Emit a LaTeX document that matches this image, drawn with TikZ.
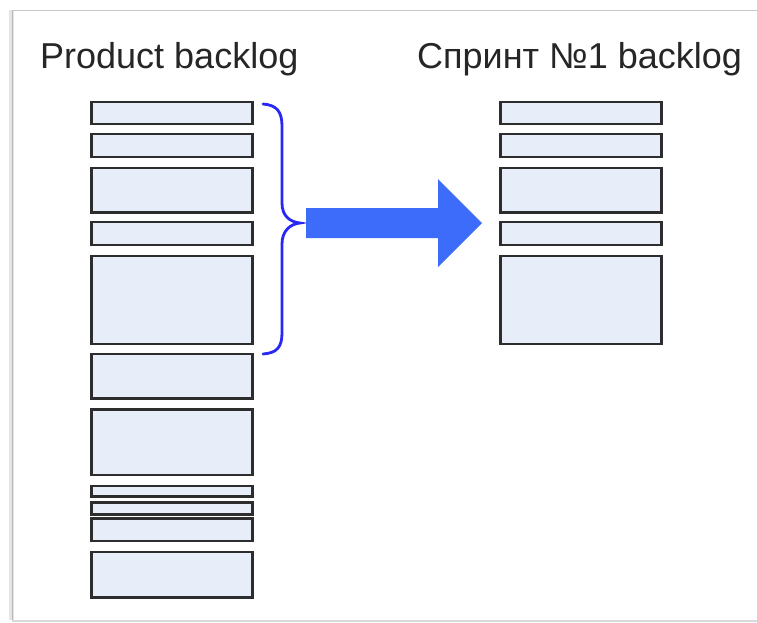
\documentclass[tikz,border=0pt]{standalone}
\usepackage{fontspec}
\setmainfont{Liberation Sans}
\definecolor{itemfill}{RGB}{232,238,249}
\definecolor{itemline}{RGB}{45,45,45}
\definecolor{arrowblue}{RGB}{62,108,250}
\definecolor{braceblue}{RGB}{40,40,245}
\tikzset{
  item/.style={draw=itemline, fill=itemfill, line width=2.5pt, minimum width=161pt, inner sep=0pt, outer sep=0pt},
  title/.style={anchor=base west, inner sep=0pt, font=\fontsize{36}{40}\selectfont, text=black!85}
}
\begin{document}
\begin{tikzpicture}[x=1pt,y=-1pt]
\clip (0,0) rectangle (757,622);
\fill[white] (0,0) rectangle (757,622);
% frame
\draw[gray!20, line width=5pt] (11,10) -- (11,620);
\draw[gray!55, line width=1pt] (12,10) -- (12,620);
\draw[gray!45, line width=1pt] (12,10) -- (800,10);
\draw[gray!30, line width=2pt] (12,620.5) -- (800,620.5);
% titles
\node[title] (t1) at (40,68) {Product backlog};
\node[title] (t2) at (417,68) {Спринт №1 backlog};
% left column
\node[item, minimum height=22pt] (l1) at (172,113) {};
\node[item, minimum height=23pt] (l2) at (172,145.3) {};
\node[item, minimum height=44.5pt] (l3) at (172,190.3) {};
\node[item, minimum height=23pt] (l4) at (172,233.5) {};
\node[item, minimum height=88pt] (l5) at (172,300) {};
\node[item, minimum height=44.5pt] (l6) at (172,376.3) {};
\node[item, minimum height=65.5pt] (l7) at (172,442.3) {};
\node[item, minimum height=10.5pt] (l8) at (172,491.3) {};
\node[item, minimum height=12.3pt] (l9) at (172,508.5) {};
\node[item, minimum height=22.7pt] (l10) at (172,529.6) {};
\node[item, minimum height=45.3pt] (l11) at (172,574.6) {};
% right column
\node[item, minimum height=22pt] (r1) at (581,113) {};
\node[item, minimum height=23pt] (r2) at (581,145.3) {};
\node[item, minimum height=44.5pt] (r3) at (581,190.3) {};
\node[item, minimum height=23pt] (r4) at (581,233.5) {};
\node[item, minimum height=88pt] (r5) at (581,300) {};
% brace
\draw[braceblue, line width=2.8pt, line cap=round]
  (263,104) .. controls (277,105) and (282,112) .. (282,126) -- (282,203)
  .. controls (282,216) and (290,222) .. (300,223)
  .. controls (290,224) and (282,231) .. (282,244) -- (282,333)
  .. controls (282,347) and (277,353) .. (263,354);
% arrow
\fill[arrowblue] (306,208) -- (438,208) -- (438,179) -- (482,223) -- (438,267) -- (438,238) -- (306,238) -- cycle;
\end{tikzpicture}
\end{document}
